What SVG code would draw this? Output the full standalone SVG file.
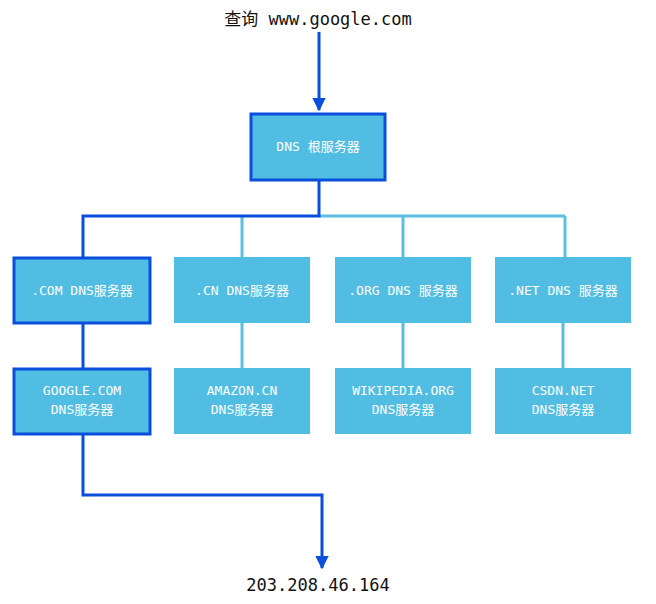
<svg xmlns="http://www.w3.org/2000/svg" width="656" height="604" viewBox="0 0 656 604">
<defs>
<style>
.box{fill:#52BDE3;}
.sel{stroke:#0A4FDB;stroke-width:3;}
.t{fill:#ffffff;font-family:"DejaVu Sans Mono","Noto Sans CJK SC",monospace;font-size:13px;text-anchor:middle;}
.lbl{fill:#111111;font-family:"DejaVu Sans Mono","Noto Sans CJK SC",monospace;font-size:17px;text-anchor:middle;}
.dk{fill:none;stroke:#0A4FDB;stroke-width:3;}
.lt{fill:none;stroke:#5BC0E0;stroke-width:3;}
</style>
<marker id="arr" viewBox="0 0 10 10" refX="9" refY="5" markerWidth="4.6" markerHeight="4.6" orient="auto" markerUnits="strokeWidth">
<path d="M0,0 L10,5 L0,10 Z" fill="#0A4FDB"/>
</marker>
</defs>
<rect width="656" height="604" fill="#ffffff"/>
<text class="lbl" x="318" y="25">查询 www.google.com</text>
<text class="lbl" x="318" y="591">203.208.46.164</text>
<g id="connectors">
<path class="lt" d="M319,216 H565 M242,216 V258 M403,216 V258 M565,216 V258 M242,323 V368 M403,323 V368 M563,323 V368"/>
<path class="dk" d="M319,180 V216 H83 V257 M83,323 V368"/>
<path class="dk" d="M319,32 V110" marker-end="url(#arr)"/>
<path class="dk" d="M83,434 V495 H322 V568" marker-end="url(#arr)"/>
</g>
<g id="root"><rect class="box sel" x="251" y="114" width="134" height="66"/><text class="t" x="318" y="151">DNS 根服务器</text></g>
<g id="com"><rect class="box sel" x="14" y="258" width="136" height="65"/><text class="t" x="82" y="295">.COM DNS服务器</text></g>
<g id="cn"><rect class="box" x="174" y="257" width="136" height="66"/><text class="t" x="242" y="295">.CN DNS服务器</text></g>
<g id="org"><rect class="box" x="335" y="257" width="136" height="66"/><text class="t" x="403" y="295">.ORG DNS 服务器</text></g>
<g id="net"><rect class="box" x="495" y="257" width="136" height="66"/><text class="t" x="563" y="295">.NET DNS 服务器</text></g>
<g id="google"><rect class="box sel" x="14" y="369" width="136" height="65"/><text class="t" x="82" y="395">GOOGLE.COM</text><text class="t" x="82" y="414">DNS服务器</text></g>
<g id="amazon"><rect class="box" x="174" y="368" width="136" height="66"/><text class="t" x="242" y="395">AMAZON.CN</text><text class="t" x="242" y="414">DNS服务器</text></g>
<g id="wiki"><rect class="box" x="335" y="368" width="136" height="66"/><text class="t" x="403" y="395">WIKIPEDIA.ORG</text><text class="t" x="403" y="414">DNS服务器</text></g>
<g id="csdn"><rect class="box" x="495" y="368" width="136" height="66"/><text class="t" x="563" y="395">CSDN.NET</text><text class="t" x="563" y="414">DNS服务器</text></g>
</svg>
